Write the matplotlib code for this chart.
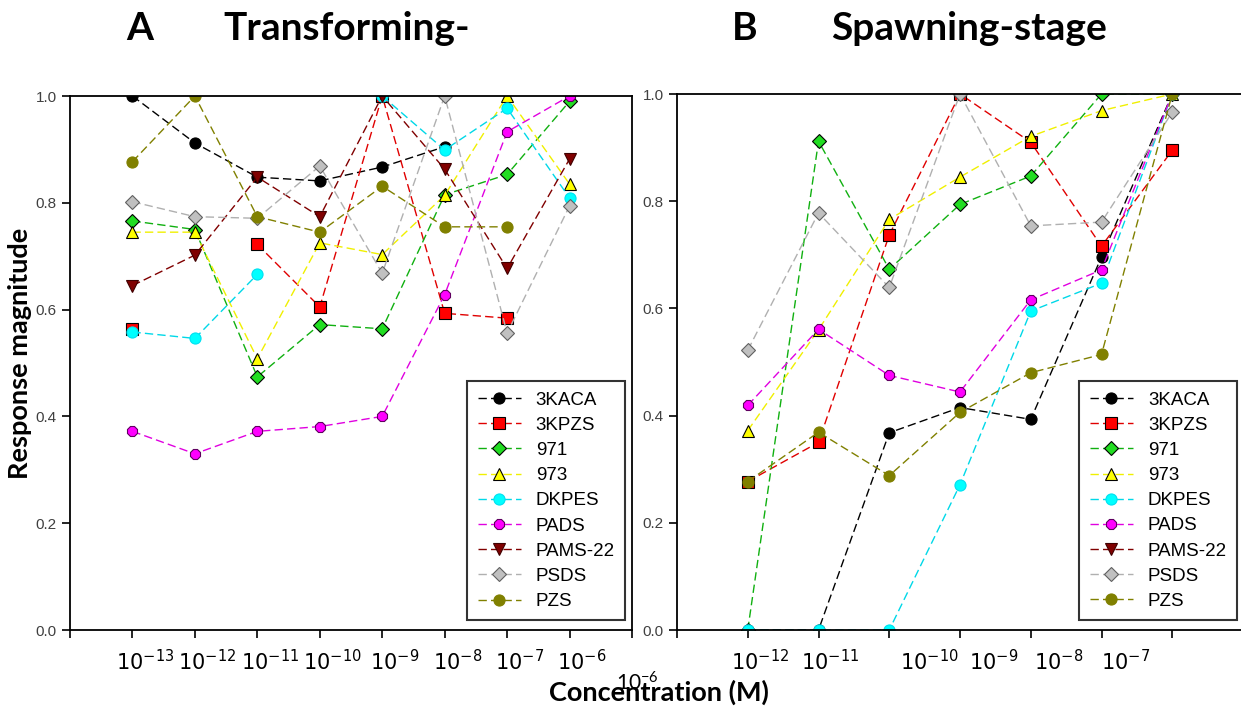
import numpy as np
import matplotlib.pyplot as plt

plt.rcParams['mathtext.fontset'] = 'custom'
plt.rcParams['mathtext.rm'] = 'Lato'
plt.rcParams['mathtext.bf'] = 'Lato:bold'

nan = np.nan

# Panel A: transforming stage, 10^-13 .. 10^-6 M
conc_a = ["10^{-13}", "10^{-12}", "10^{-11}", "10^{-10}", "10^{-9}", "10^{-8}", "10^{-7}", "10^{-6}"]
a_3kaca = [1.0, 0.912, 0.848, 0.841, 0.867, 0.905, nan, nan]
a_3kpzs = [0.564, nan, 0.722, 0.605, 1.0, 0.593, 0.584, nan]
a_971 = [0.766, 0.75, 0.474, 0.572, 0.564, 0.815, 0.853, 0.99]
a_973 = [0.745, 0.745, 0.508, 0.725, 0.703, 0.814, 1.0, 0.835]
a_dkpes = [0.558, 0.546, 0.666, nan, 1.0, 0.899, 0.977, 0.809]
a_pads = [0.372, 0.330, 0.372, 0.381, 0.400, 0.628, 0.933, 1.0]
a_pams = [0.645, 0.702, 0.848, 0.774, 1.0, 0.863, 0.677, 0.882]
a_psds = [0.802, 0.774, 0.771, 0.869, 0.668, 1.0, 0.556, 0.794]
a_pzs = [0.877, 1.0, 0.774, 0.745, 0.831, 0.755, 0.755, nan]

# Panel B: spawning stage, 7 concentrations
b_3kaca = [0.0, 0.0, 0.368, 0.415, 0.393, 0.696, 1.0]
b_3kpzs = [0.277, 0.350, 0.737, 1.0, 0.910, 0.716, 0.895]
b_971 = [0.0, 0.912, 0.673, 0.794, 0.847, 1.0, 1.0]
b_973 = [0.372, 0.560, 0.766, 0.845, 0.921, 0.969, 1.0]
b_dkpes = [0.0, 0.0, 0.0, 0.271, 0.595, 0.647, 1.0]
b_pads = [0.419, 0.561, 0.475, 0.444, 0.616, 0.672, 1.0]
b_pams = [nan, nan, nan, nan, nan, nan, nan]
b_psds = [0.522, 0.778, 0.639, 1.0, 0.754, 0.761, 0.966]
b_pzs = [0.277, 0.369, 0.288, 0.406, 0.480, 0.514, 1.0]
# tick labels of panel B sit where they were pasted, not on the ticks
conc_b = ["10^{-12}", "10^{-11}", "10^{-10}", "10^{-9}", "10^{-8}", "10^{-7}"]
conc_b_pos = [1.0, 2.0, 3.4, 4.3, 5.22, 6.17]

names = ["3KACA", "3KPZS", "971", "973", "DKPES", "PADS", "PAMS-22", "PSDS", "PZS"]
styles = [
    dict(color="black", marker="o", mfc="black", mec="black"),
    dict(color="#e00000", marker="s", mfc="#ff0000", mec="black"),
    dict(color="#10b010", marker="D", mfc="#22dd22", mec="black"),
    dict(color="#f0f000", marker="^", mfc="#ffff00", mec="black"),
    dict(color="#00d8e8", marker="o", mfc="#00ffff", mec="#00e0f0"),
    dict(color="#e000e0", marker="8", mfc="#ff00ff", mec="#600060"),
    dict(color="#800000", marker="v", mfc="#800000", mec="#400000"),
    dict(color="#b0b0b0", marker="D", mfc="#c0c0c0", mec="#606060"),
    dict(color="#808000", marker="o", mfc="#808000", mec="#808000"),
]
narrow = ["Liberation Sans Narrow", "Liberation Sans"]


def draw_panel(ax, series, n_ticks, xmax, leg_x):
    x = np.arange(1, len(series[0]) + 1)
    for name, vals, st in zip(names, series, styles):
        ax.plot(x, vals, ls=(0, (6, 3)), lw=1.0, ms=8 if st["marker"] != "D" else 7,
                mew=0.8, label=name, **st)
    ax.set_xlim(0, xmax)
    ax.set_ylim(0, 1.0)
    ax.set_xticks(np.arange(0, n_ticks))
    ax.set_yticks([0.0, 0.2, 0.4, 0.6, 0.8, 1.0])
    ax.set_yticklabels(["0.0", "0.2", "0.4", "0.6", "0.8", "1.0"], family=narrow,
                       fontsize=11, color="#404040")
    ax.tick_params(length=6, width=1.2, direction="out")
    for sp in ax.spines.values():
        sp.set_linewidth(1.3)
    leg = ax.legend(loc="lower right", bbox_to_anchor=(leg_x, 0.018), prop=dict(family=narrow, size=13.5),
                    frameon=True, fancybox=False, edgecolor="black", handlelength=2.3,
                    labelspacing=0.43, borderpad=0.55, handletextpad=0.8, borderaxespad=0)
    leg.get_frame().set_linewidth(1.5)


fig = plt.figure(figsize=(12.41, 7.09), dpi=100)
ax_a = fig.add_axes([70 / 1241, 79 / 709, 562 / 1241, 534 / 709])
ax_b = fig.add_axes([677 / 1241, 79 / 709, 566 / 1241, 536 / 709])

draw_panel(ax_a, [a_3kaca, a_3kpzs, a_971, a_973, a_dkpes, a_pads, a_pams, a_psds, a_pzs], 10, 9, 0.988)
ax_a.set_xticklabels(["" for i in range(10)])
for i, lab in enumerate(conc_a):
    ax_a.text(i + 1.2, -0.035, r"$\mathregular{%s}$" % lab, ha="center", va="top", fontsize=15,
              transform=ax_a.get_xaxis_transform())

draw_panel(ax_b, [b_3kaca, b_3kpzs, b_971, b_973, b_dkpes, b_pads, b_pams, b_psds, b_pzs], 9, 8, 0.990)
ax_b.spines["right"].set_visible(False)
ax_b.set_xticklabels(["" for i in range(9)])
for pos, lab in zip(conc_b_pos, conc_b):
    ax_b.text(pos + 0.17, -0.035, r"$\mathregular{%s}$" % lab, ha="center", va="top", fontsize=15,
              transform=ax_b.get_xaxis_transform())

fig.text(140 / 1241, 1 - 28 / 709, "A", fontsize=28, fontweight="bold", family="Lato", ha="center", va="center")
fig.text(347 / 1241, 1 - 28 / 709, "Transforming-", fontsize=28, fontweight="bold", family="Lato",
         ha="center", va="center")
fig.text(745 / 1241, 1 - 28 / 709, "B", fontsize=28, fontweight="bold", family="Lato", ha="center", va="center")
fig.text(969 / 1241, 1 - 28 / 709, "Spawning-stage", fontsize=28, fontweight="bold", family="Lato",
         ha="center", va="center")
fig.text(20 / 1241, 1 - 353 / 709, "Response magnitude", fontsize=19.5, fontweight="bold", family="Lato",
         rotation=90, ha="center", va="center")
fig.text(659 / 1241, 1 - 692 / 709, "Concentration (M)", fontsize=19.5, fontweight="bold", family="Lato",
         ha="center", va="center")
fig.text(637 / 1241, 1 - 683 / 709, r"$\mathregular{10^{-6}}$", fontsize=15, family="Lato",
         ha="center", va="center")

fig.savefig("out.png", dpi=100)
